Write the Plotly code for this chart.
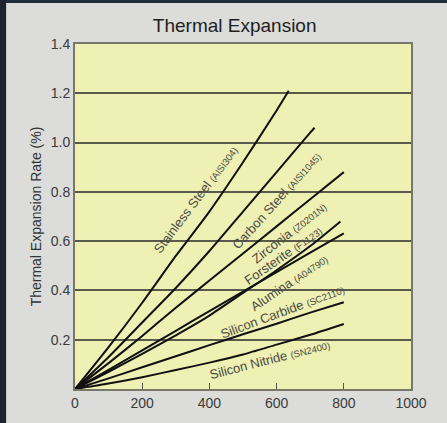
import plotly.graph_objects as go

# ---- data ----
temps_ss = [0, 100, 200, 300, 400, 500, 600, 636]
stainless_steel = [0, 0.17, 0.35, 0.54, 0.72, 0.92, 1.13, 1.21]

temps_cs = [0, 100, 200, 300, 400, 500, 600, 700, 713]
carbon_steel = [0, 0.13, 0.27, 0.41, 0.56, 0.72, 0.88, 1.04, 1.06]

temps_800 = [0, 100, 200, 300, 400, 500, 600, 700, 800]
zirconia = [0, 0.105, 0.215, 0.33, 0.44, 0.55, 0.66, 0.77, 0.88]

temps_fo = [0, 100, 200, 300, 400, 500, 600, 700, 790]
forsterite = [0, 0.07, 0.143, 0.218, 0.298, 0.39, 0.482, 0.58, 0.68]

alumina = [0, 0.078, 0.157, 0.236, 0.316, 0.395, 0.474, 0.553, 0.632]
silicon_carbide = [0, 0.043, 0.088, 0.133, 0.178, 0.222, 0.265, 0.31, 0.352]
silicon_nitride = [0, 0.022, 0.048, 0.077, 0.107, 0.14, 0.18, 0.22, 0.264]

series = [
    ("Stainless Steel", "AISI304", temps_ss, stainless_steel),
    ("Carbon Steel", "AISI1045", temps_cs, carbon_steel),
    ("Zirconia", "Z0201N", temps_800, zirconia),
    ("Forsterite", "F1123", temps_fo, forsterite),
    ("Alumina", "A04790", temps_800, alumina),
    ("Silicon Carbide", "SC2110", temps_800, silicon_carbide),
    ("Silicon Nitride", "SN2400", temps_800, silicon_nitride),
]

x_ticks = [0, 200, 400, 600, 800, 1000]
y_ticks = [0.2, 0.4, 0.6, 0.8, 1.0, 1.2, 1.4]

# label placement (data coords) and angle
label_pos = [
    (360, 0.768, -53),
    (600, 0.766, -48),
    (638, 0.636, -38),
    (620, 0.540, -35),
    (638, 0.434, -34),
    (618, 0.314, -20.5),
    (580, 0.118, -14.5),
]

FONT = "Liberation Sans, Arial, Helvetica, sans-serif"

fig = go.Figure()
for (name, code, xs, ys) in series:
    fig.add_trace(go.Scatter(x=xs, y=ys, mode="lines", name=name,
                             line=dict(color="#111111", width=2, shape="spline", smoothing=0.6),
                             showlegend=False, hoverinfo="skip"))

annotations = []
for (name, code, xs, ys), (lx, ly, ang) in zip(series, label_pos):
    annotations.append(dict(
        x=lx, y=ly, xref="x", yref="y", showarrow=False, textangle=ang,
        text=f"{name} <span style='font-size:9.5px'>({code})</span>",
        font=dict(family=FONT, size=13, color="#4a4a42"),
    ))

fig.update_layout(
    width=447, height=423,
    margin=dict(l=75, r=36, t=44, b=31),
    paper_bgcolor="#dcdcda",
    plot_bgcolor="#eef0b4",
    title=dict(text="Thermal Expansion", x=0.525, xanchor="center", y=0.94, yanchor="middle",
               font=dict(family=FONT, size=19, color="#1e1e1e")),
    annotations=annotations,
    shapes=[
        dict(type="rect", xref="paper", yref="paper", x0=-0.3, x1=1.2, y0=1.119, y1=1.2,
             fillcolor="#1f2c3a", line=dict(width=0), layer="below"),
        dict(type="rect", xref="paper", yref="paper", x0=-0.3, x1=-0.205, y0=-0.2, y1=1.2,
             fillcolor="#1c232c", line=dict(width=0), layer="below"),
    ],
    xaxis=dict(range=[0, 1000], tickvals=x_ticks, ticktext=[str(v) for v in x_ticks],
               showgrid=False, zeroline=False, ticks="inside", ticklen=6, tickwidth=1.2,
               tickcolor="#555550", showline=True, linecolor="#77776a", linewidth=2, mirror=True,
               tickfont=dict(family=FONT, size=14, color="#3a3a3a")),
    yaxis=dict(range=[0, 1.4], tickvals=y_ticks, ticktext=[f"{v:.1f}" for v in y_ticks],
               showgrid=True, gridcolor="#5a5a4c", gridwidth=1.5, zeroline=False,
               ticks="", showline=True, linecolor="#77776a", linewidth=2, mirror=True,
               automargin=False,
               tickfont=dict(family=FONT, size=14, color="#3a3a3a"),
               title=dict(text="Thermal Expansion Rate (%)", standoff=6,
                          font=dict(family=FONT, size=14, color="#333333"))),
)

fig.write_html("out.html", config={"displayModeBar": False},
               post_script="document.body.style.margin='0px';document.body.style.background='#dcdcda';")
